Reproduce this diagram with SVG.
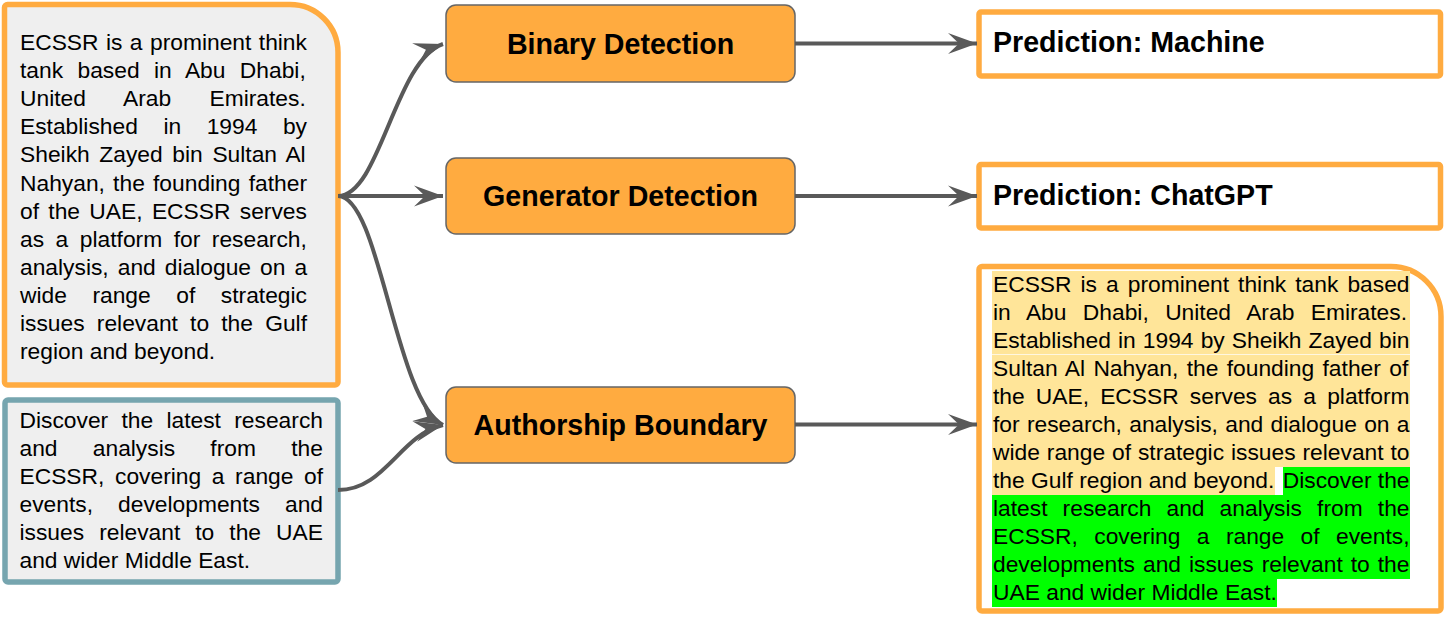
<svg xmlns="http://www.w3.org/2000/svg" width="1450" height="621" viewBox="0 0 1450 621">
<style>
.body{font-family:"Liberation Sans",Arial,sans-serif;font-size:22.8px;fill:#000}
.lbl{font-family:"Liberation Sans",Arial,sans-serif;font-size:28.6px;font-weight:bold;fill:#000}
.node{fill:#FFAB40;stroke:#666666;stroke-width:1.5}
.conn{fill:none;stroke:#595959;stroke-width:4}
.pred{fill:#FFFFFF;stroke:#FFAB40;stroke-width:5.5}
</style>
<defs>
<marker id="ah" markerUnits="userSpaceOnUse" markerWidth="32" markerHeight="24" viewBox="0 0 32 24" refX="30" refY="12" orient="auto">
<path d="M1,1.5 L30,12 L1,22.5 L12,12 Z" fill="#595959"/>
</marker>
</defs>
<rect width="1450" height="621" fill="#FFFFFF"/>

<g id="source-text-1">
<path d="M7.5,4.5 H290 A48,48 0 0 1 338,52.5 V382 a3,3 0 0 1 -3,3 H7.5 a3,3 0 0 1 -3,-3 V7.5 a3,3 0 0 1 3,-3 Z" fill="#EFEFEF" stroke="#FFAB40" stroke-width="5.5"/>
<text class="body" x="20" y="50" word-spacing="1.1">ECSSR is a prominent think</text>
<text class="body" x="20" y="78.1" word-spacing="8.07">tank based in Abu Dhabi,</text>
<text class="body" x="20" y="106.2" word-spacing="32">United Arab Emirates.</text>
<text class="body" x="20" y="134.3" word-spacing="19.2">Established in 1994 by</text>
<text class="body" x="20" y="162.4" word-spacing="3.3">Sheikh Zayed bin Sultan Al</text>
<text class="body" x="20" y="190.5" word-spacing="1.87">Nahyan, the founding father</text>
<text class="body" x="20" y="218.6" word-spacing="3">of the UAE, ECSSR serves</text>
<text class="body" x="20" y="246.7" word-spacing="5.2">as a platform for research,</text>
<text class="body" x="20" y="274.8" word-spacing="2.7">analysis, and dialogue on a</text>
<text class="body" x="20" y="302.9" word-spacing="19.2">wide range of strategic</text>
<text class="body" x="20" y="331" word-spacing="5.85">issues relevant to the Gulf</text>
<text class="body" x="20" y="359.1">region and beyond.</text>
</g>

<g id="source-text-2">
<rect x="5" y="400" width="333" height="182" rx="3" fill="#EFEFEF" stroke="#76A5AF" stroke-width="5.5"/>
<text class="body" x="19.5" y="428.3" word-spacing="6.97">Discover the latest research</text>
<text class="body" x="19.5" y="456.3" word-spacing="28.9">and analysis from the</text>
<text class="body" x="19.5" y="484.3" word-spacing="4.3">ECSSR, covering a range of</text>
<text class="body" x="19.5" y="512.3" word-spacing="18.7">events, developments and</text>
<text class="body" x="19.5" y="540.3" word-spacing="8.7">issues relevant to the UAE</text>
<text class="body" x="19.5" y="568.3">and wider Middle East.</text>
</g>

<g id="binary-detection">
<rect class="node" x="446" y="5" width="349" height="77" rx="10"/>
<text class="lbl" x="620.5" y="54" text-anchor="middle">Binary Detection</text>
</g>

<g id="generator-detection">
<rect class="node" x="446" y="158" width="349" height="76" rx="10"/>
<text class="lbl" x="620.5" y="206" text-anchor="middle">Generator Detection</text>
</g>

<g id="authorship-boundary">
<rect class="node" x="446" y="387" width="349" height="76" rx="10"/>
<text class="lbl" x="620.5" y="435" text-anchor="middle">Authorship Boundary</text>
</g>

<g id="prediction-machine">
<rect class="pred" x="979" y="12" width="461.5" height="64" rx="2"/>
<text class="lbl" x="993" y="52">Prediction: Machine</text>
</g>

<g id="prediction-chatgpt">
<rect class="pred" x="979" y="164.5" width="461.5" height="63.5" rx="2"/>
<text class="lbl" x="993" y="205">Prediction: ChatGPT</text>
</g>

<g id="boundary-output">
<path d="M982,266.5 H1391 A50,50 0 0 1 1441,316.5 V608 a3,3 0 0 1 -3,3 H982 a3,3 0 0 1 -3,-3 V269.5 a3,3 0 0 1 3,-3 Z" fill="#FFFFFF" stroke="#FFAB40" stroke-width="5.5"/>
<g fill="#FFE599">
<rect x="992" y="271" width="418" height="28"/>
<rect x="992" y="299" width="418" height="28"/>
<rect x="992" y="327" width="418" height="27.3"/>
<rect x="992" y="355" width="418" height="28"/>
<rect x="992" y="383" width="418" height="28"/>
<rect x="992" y="411" width="418" height="28"/>
<rect x="992" y="439" width="418" height="28"/>
<rect x="992" y="467" width="283" height="28"/>
</g>
<g fill="#00FF00">
<rect x="1283" y="467" width="127" height="28"/>
<rect x="992" y="495" width="418" height="28"/>
<rect x="992" y="523" width="418" height="28"/>
<rect x="992" y="551" width="418" height="28"/>
<rect x="992" y="579" width="285" height="28"/>
</g>
<text class="body" x="993" y="292" word-spacing="2.68">ECSSR is a prominent think tank based</text>
<text class="body" x="993" y="320" word-spacing="10.06">in Abu Dhabi, United Arab Emirates.</text>
<text class="body" x="993" y="348" word-spacing="0.77">Established in 1994 by Sheikh Zayed bin</text>
<text class="body" x="993" y="376" word-spacing="2.03">Sultan Al Nahyan, the founding father of</text>
<text class="body" x="993" y="404" word-spacing="4.8">the UAE, ECSSR serves as a platform</text>
<text class="body" x="993" y="432" word-spacing="0.98">for research, analysis, and dialogue on a</text>
<text class="body" x="993" y="460" word-spacing="0.57">wide range of strategic issues relevant to</text>
<text class="body" x="993" y="488">the Gulf region and beyond.</text>
<text class="body" x="1409.5" y="488" text-anchor="end">Discover the</text>
<text class="body" x="993" y="516" word-spacing="8.8">latest research and analysis from the</text>
<text class="body" x="993" y="544" word-spacing="10.06">ECSSR, covering a range of events,</text>
<text class="body" x="993" y="572" word-spacing="1.68">developments and issues relevant to the</text>
<text class="body" x="993" y="600">UAE and wider Middle East.</text>
</g>

<g id="connectors">
<path class="conn" d="M338,196 C380,196 395,60 443,44" marker-end="url(#ah)"/>
<path class="conn" d="M338,196 H443" marker-end="url(#ah)"/>
<path class="conn" d="M338,196 C380,196 395,400 443,425" marker-end="url(#ah)"/>
<path class="conn" d="M338,490 C385,490 400,435 443,425" marker-end="url(#ah)"/>
<path class="conn" d="M795,43.5 H977" marker-end="url(#ah)"/>
<path class="conn" d="M795,196 H977" marker-end="url(#ah)"/>
<path class="conn" d="M795,424.5 H977" marker-end="url(#ah)"/>
</g>
</svg>
